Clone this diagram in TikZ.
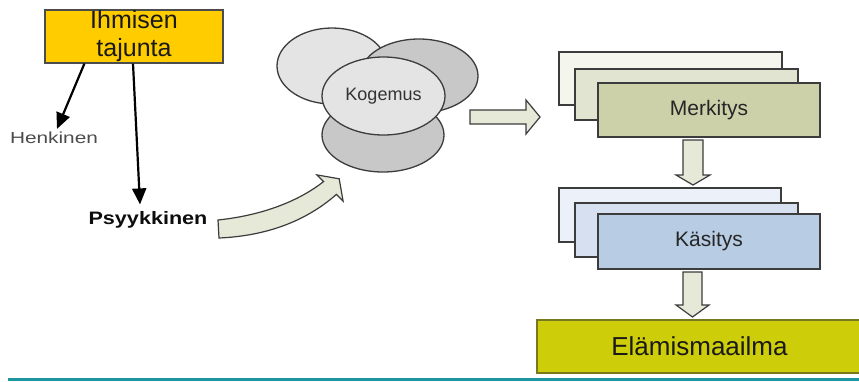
\documentclass[tikz,border=0pt]{standalone}
\usepackage{fontspec}
\setmainfont{Liberation Sans}
\usetikzlibrary{arrows.meta,shapes.geometric}
\definecolor{yel}{RGB}{255,204,0}
\definecolor{olivebox}{RGB}{205,205,10}
\definecolor{olivebd}{RGB}{120,120,30}
\definecolor{mfront}{RGB}{204,209,170}
\definecolor{mmid}{RGB}{224,228,208}
\definecolor{mback}{RGB}{244,246,237}
\definecolor{kfront}{RGB}{184,204,228}
\definecolor{kmid}{RGB}{214,224,240}
\definecolor{kback}{RGB}{236,240,248}
\definecolor{elllight}{RGB}{228,228,228}
\definecolor{elldark}{RGB}{200,200,200}
\definecolor{barrow}{RGB}{230,232,216}
\definecolor{bd}{RGB}{60,60,60}
\definecolor{teal}{RGB}{30,150,160}
\tikzset{
  ybox/.style={draw=black!70, line width=1.2pt, fill=yel, inner sep=0pt},
  stackrect/.style={draw=bd, line width=1.4pt},
  frontbox/.style={stackrect, inner sep=0pt, text=black!85, font=\fontsize{21}{23}\selectfont},
  ell/.style={draw=bd, line width=1.3pt},
  blockarrow/.style={draw=bd, line width=1.2pt, fill=barrow, line join=miter},
  arr/.style={line width=2.2pt, -{Triangle[length=16pt,width=14pt]}},
}
\begin{document}
\begin{tikzpicture}[x=1pt,y=-1pt]
\useasboundingbox (0,0) rectangle (859,381);
\fill[white] (0,0) rectangle (859,381);
% Ihmisen tajunta
\node[ybox, minimum width=178pt, minimum height=53pt, align=center,
      font=\fontsize{25}{28}\selectfont, text=black!90] (ihm) at (134,36.5) {Ihmisen\\tajunta};
\node[inner sep=0pt, text=black!70, font=\fontsize{16}{18}\selectfont, xscale=1.3] (henk) at (54,138) {Henkinen};
\node[inner sep=0pt, text=black!95, font=\fontsize{18}{20}\selectfont\bfseries, xscale=1.2] (psy) at (148,220) {Psyykkinen};
\draw[arr] ([xshift=40pt]ihm.south west) -- ([xshift=3pt,yshift=3pt]henk.north);
\draw[arr] ([xshift=-1pt]ihm.south) -- ([xshift=-8pt,yshift=7pt]psy.north);
% curved block arrow
\draw[blockarrow] (218,220) .. controls (265,215) and (300,200) .. (323.6,181.6)
  -- (316.9,174.9) -- (339.2,178.8) -- (343.1,201.1) -- (336.4,194.4)
  .. controls (305,222) and (265,236) .. (219,238) -- cycle;
% Kogemus ellipses
\draw[ell, fill=elllight] (332,66) ellipse [x radius=55pt, y radius=38pt];
\draw[ell, fill=elldark] (419,76) ellipse [x radius=59pt, y radius=37pt];
\draw[ell, fill=elldark] (383,135) ellipse [x radius=61pt, y radius=37pt];
\node[ell, ellipse, fill=elllight, minimum width=123pt, minimum height=78pt, inner sep=0pt,
      text=black!80, font=\fontsize{18}{20}\selectfont] (kog) at (383.5,96) {Kogemus};
% right block arrow
\draw[blockarrow] (470,110) -- (526,110) -- (526,100) -- (540,117) -- (526,134) -- (526,124) -- (470,124) -- cycle;
% Merkitys stack
\draw[stackrect, fill=mback] (559,52) rectangle (782,105);
\draw[stackrect, fill=mmid] (575,69) rectangle (798,120);
\node[frontbox, fill=mfront, minimum width=222pt, minimum height=54pt] (merk) at (709,110) {Merkitys};
% down arrow 1
\draw[blockarrow] (683,140) -- (703,140) -- (703,175) -- (710,175) -- (693,185) -- (676,175) -- (683,175) -- cycle;
% Kasitys stack
\draw[stackrect, fill=kback] (559,188) rectangle (781,242);
\draw[stackrect, fill=kmid] (575,203) rectangle (798,257);
\node[frontbox, fill=kfront, minimum width=222pt, minimum height=55pt] (kas) at (709,241.5) {Käsitys};
% down arrow 2
\draw[blockarrow] (683,272) -- (702,272) -- (702,305) -- (709,305) -- (692.5,317) -- (676,305) -- (683,305) -- cycle;
% Elamismaailma
\node[draw=olivebd, line width=1.3pt, fill=olivebox, minimum width=325pt, minimum height=53pt, inner sep=0pt,
      text=black!90, font=\fontsize{26}{28}\selectfont] (elam) at (699.5,346.5) {Elämismaailma};
% bottom line
\draw[teal, line width=3pt] (8,379.5) -- (862,379.5);
\end{tikzpicture}
\end{document}
